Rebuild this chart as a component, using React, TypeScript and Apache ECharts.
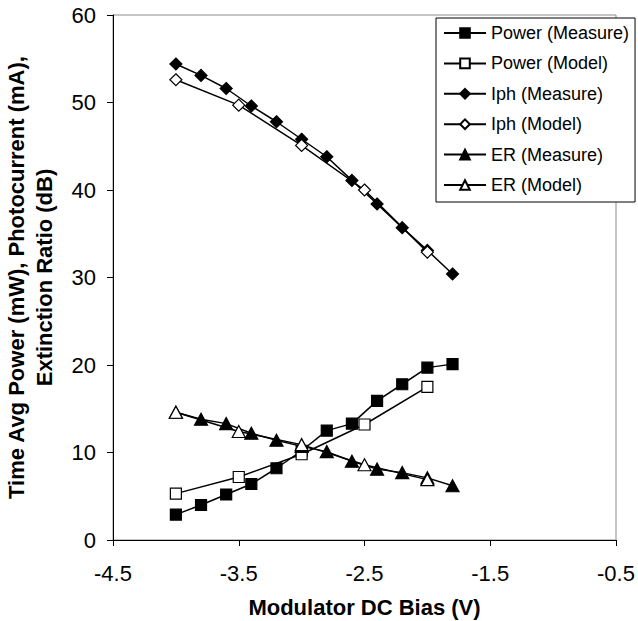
import React, { useEffect, useRef } from "react";
import * as echarts from "echarts";

const xMeasure = [-4.0, -3.8, -3.6, -3.4, -3.2, -3.0, -2.8, -2.6, -2.4, -2.2, -2.0, -1.8];
const xModel = [-4.0, -3.5, -3.0, -2.5, -2.0];

const powerMeasure = [2.9, 4.0, 5.2, 6.4, 8.2, 10.2, 12.5, 13.3, 15.9, 17.8, 19.7, 20.1];
const powerModel = [5.3, 7.2, 9.8, 13.2, 17.5];
const iphMeasure = [54.4, 53.1, 51.6, 49.6, 47.8, 45.8, 43.8, 41.1, 38.4, 35.7, 33.1, 30.4];
const iphModel = [52.6, 49.7, 45.1, 40.0, 32.9];
const erMeasure = [14.6, 13.8, 13.3, 12.2, 11.4, 10.7, 10.1, 9.0, 8.1, 7.7, 7.1, 6.2];
const erModel = [14.6, 12.4, 10.9, 8.6, 6.9];

const seriesNames = [
  "Power (Measure)",
  "Power (Model)",
  "Iph (Measure)",
  "Iph (Model)",
  "ER (Measure)",
  "ER (Model)",
];

const FONT = "Arial, 'Liberation Sans', sans-serif";

function pairs(xs: number[], ys: number[]) {
  return xs.map((x, i) => [x, ys[i]]);
}

export default function App() {
  const ref = useRef<HTMLDivElement>(null);
  useEffect(() => {
    if (!ref.current) return;
    const chart = echarts.init(ref.current, null, { renderer: "svg" });
    const mk = (
      name: string,
      data: number[][],
      symbol: string,
      size: number | number[],
      filled: boolean
    ) => ({
      name,
      type: "line",
      data,
      symbol,
      symbolSize: size,
      showAllSymbol: true,
      lineStyle: { color: "#000", width: 1.5 },
      itemStyle: {
        color: filled ? "#000" : "#fff",
        borderColor: "#000",
        borderWidth: 1.2,
      },
      emphasis: { disabled: true },
    });
    chart.setOption({
      animation: false,
      backgroundColor: "#fff",
      grid: {
        left: 113,
        right: 22,
        top: 15,
        bottom: 81,
        containLabel: false,
        outerBoundsMode: "none",
        show: true,
        borderColor: "#8c8c8c",
        borderWidth: 1,
        backgroundColor: "transparent",
      },
      legend: {
        orient: "vertical",
        left: 436,
        top: 18,
        data: seriesNames,
        itemWidth: 42,
        itemHeight: 12,
        itemGap: 12.4,
        padding: [6, 6, 8, 7],
        backgroundColor: "#fff",
        borderColor: "#000",
        borderWidth: 1,
        borderRadius: 0,
        textStyle: { fontFamily: FONT, fontSize: 18, color: "#000", lineHeight: 18 },
      },
      xAxis: {
        type: "value",
        min: -4.5,
        max: -0.5,
        interval: 1,
        name: "Modulator DC Bias (V)",
        nameLocation: "middle",
        nameGap: 56,
        nameTextStyle: { fontFamily: FONT, fontSize: 22, fontWeight: "bold", color: "#000", lineHeight: 22 },
        axisLine: { onZero: false, lineStyle: { color: "#000", width: 1 } },
        axisTick: { show: true, inside: false, length: 6, lineStyle: { color: "#000" } },
        axisLabel: {
          fontFamily: FONT,
          fontSize: 22,
          color: "#000",
          margin: 22,
          formatter: (v: number) => v.toFixed(1),
        },
        splitLine: { show: false },
      },
      yAxis: {
        type: "value",
        min: 0,
        max: 60,
        interval: 10,
        name: "Time Avg Power (mW), Photocurrent (mA),\nExtinction Ratio (dB)",
        nameLocation: "middle",
        nameRotate: 90,
        nameGap: 55,
        nameTextStyle: {
          fontFamily: FONT,
          fontSize: 22,
          fontWeight: "bold",
          color: "#000",
          lineHeight: 28,
        },
        axisLine: { show: true, lineStyle: { color: "#000", width: 1 } },
        axisTick: { show: true, inside: false, length: 6, lineStyle: { color: "#000" } },
        axisLabel: { fontFamily: FONT, fontSize: 22, color: "#000", margin: 17 },
        splitLine: { show: false },
      },
      series: [
        mk(seriesNames[0], pairs(xMeasure, powerMeasure), "rect", 11, true),
        mk(seriesNames[1], pairs(xModel, powerModel), "rect", 11, false),
        mk(seriesNames[2], pairs(xMeasure, iphMeasure), "diamond", 12, true),
        mk(seriesNames[3], pairs(xModel, iphModel), "diamond", 12, false),
        mk(seriesNames[4], pairs(xMeasure, erMeasure), "triangle", [13, 12], true),
        mk(seriesNames[5], pairs(xModel, erModel), "triangle", [13, 12], false),
      ],
    });
    return () => chart.dispose();
  }, []);
  return (
    <div
      ref={ref}
      style={{ position: "absolute", left: 0, top: 0, width: 638, height: 621 }}
    />
  );
}
